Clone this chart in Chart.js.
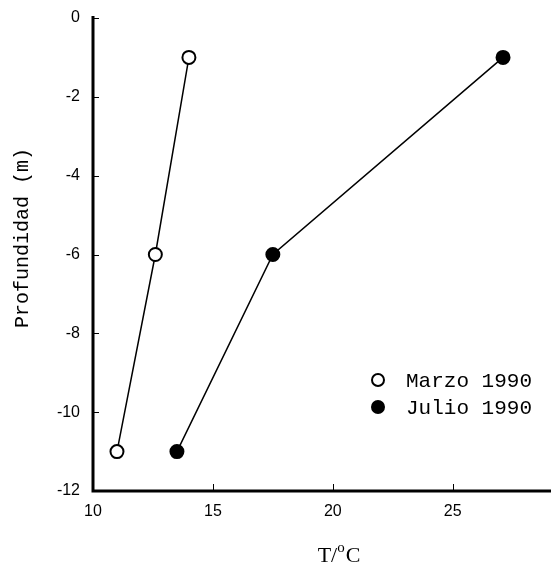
<!DOCTYPE html>
<html>
<head>
<meta charset="utf-8">
<script src="https://cdn.jsdelivr.net/npm/chart.js@4/dist/chart.umd.min.js"></script>
<style>
html,body{margin:0;padding:0;background:#fff;}
#wrap{width:551px;height:570px;}
</style>
</head>
<body>
<div id="wrap"><canvas id="c" width="551" height="570"></canvas></div>
<script>
// Data
const depths = [-1, -6, -11];
const marzoT = [14.0, 12.6, 11.0];
const julioT = [27.1, 17.5, 13.5];
const seriesNames = ['Marzo 1990', 'Julio 1990'];
const xTickValues = [10, 15, 20, 25];
const yTickValues = [0, -2, -4, -6, -8, -10, -12];
const xTitle = ['T/', 'o', 'C'];
const yTitle = 'Profundidad (m)';

const toPts = (xs) => xs.map((x, i) => ({x: x, y: depths[i]}));

const axesPlugin = {
  id: 'axesPlugin',
  afterDraw(chart) {
    const ctx = chart.ctx;
    const a = chart.chartArea;
    const xs = chart.scales.x, ys = chart.scales.y;
    ctx.save();
    ctx.strokeStyle = '#000';
    ctx.lineCap = 'butt';
    // axis lines
    ctx.lineWidth = 3;
    ctx.beginPath();
    ctx.moveTo(a.left, a.top - 2);
    ctx.lineTo(a.left, a.bottom + 1.5);
    ctx.moveTo(a.left - 1.5, a.bottom);
    ctx.lineTo(chart.width, a.bottom);
    ctx.stroke();
    // inward ticks
    ctx.lineWidth = 1;
    ctx.beginPath();
    yTickValues.forEach(v => {
      const y = Math.round(ys.getPixelForValue(v)) + 0.5;
      ctx.moveTo(a.left, y); ctx.lineTo(a.left + 6, y);
    });
    xTickValues.forEach(v => {
      const x = Math.round(xs.getPixelForValue(v)) + 0.5;
      ctx.moveTo(x, a.bottom); ctx.lineTo(x, a.bottom - 7);
    });
    ctx.stroke();

    // y title
    ctx.fillStyle = '#000';
    ctx.save();
    ctx.translate(23, 238);
    ctx.rotate(-Math.PI / 2);
    ctx.font = '20px "Liberation Mono"';
    ctx.textAlign = 'center';
    ctx.textBaseline = 'middle';
    ctx.fillText(yTitle, 0, 0);
    ctx.restore();

    // x title with superscript
    ctx.textAlign = 'left';
    ctx.textBaseline = 'alphabetic';
    const big = '22px "Liberation Serif"', small = '15px "Liberation Serif"';
    ctx.font = big; const w1 = ctx.measureText(xTitle[0]).width;
    ctx.font = small; const w2 = ctx.measureText(xTitle[1]).width;
    ctx.font = big; const w3 = ctx.measureText(xTitle[2]).width;
    let x0 = 339 - (w1 + w2 + w3 + 1) / 2;
    const base = 562;
    ctx.font = big; ctx.fillText(xTitle[0], x0, base);
    ctx.font = small; ctx.fillText(xTitle[1], x0 + w1, base - 10);
    ctx.font = big; ctx.fillText(xTitle[2], x0 + w1 + w2 + 1, base);

    // legend
    const ds = chart.data.datasets;
    ctx.font = '21px "Liberation Mono"';
    ctx.textBaseline = 'middle';
    ds.forEach((d, i) => {
      const cy = 380 + i * 27;
      ctx.beginPath();
      ctx.arc(378, cy, 6, 0, Math.PI * 2);
      ctx.fillStyle = d.pointBackgroundColor;
      ctx.fill();
      ctx.lineWidth = 2;
      ctx.strokeStyle = '#000';
      ctx.stroke();
      ctx.fillStyle = '#000';
      ctx.fillText(d.label, 406, cy + 1);
    });
    ctx.restore();
  }
};

function zeroPad(s) { s.paddingLeft = 0; s.paddingRight = 0; s.paddingTop = 0; s.paddingBottom = 0; }

new Chart(document.getElementById('c'), {
  type: 'scatter',
  data: {
    datasets: [
      {label: seriesNames[0], data: toPts(marzoT), showLine: true,
       borderColor: '#000', borderWidth: 1.5,
       pointBackgroundColor: '#fff', pointBorderColor: '#000',
       pointBorderWidth: 2, pointRadius: 6.5, pointHoverRadius: 6.5},
      {label: seriesNames[1], data: toPts(julioT), showLine: true,
       borderColor: '#000', borderWidth: 1.5,
       pointBackgroundColor: '#000', pointBorderColor: '#000',
       pointBorderWidth: 2, pointRadius: 6.5, pointHoverRadius: 6.5}
    ]
  },
  options: {
    responsive: false,
    animation: false,
    events: [],
    clip: false,
    layout: {autoPadding: false, padding: {top: 18, right: 0, left: 0, bottom: 0}},
    plugins: {legend: {display: false}, tooltip: {enabled: false}},
    scales: {
      x: {
        type: 'linear', min: 10, max: 29.1,
        afterBuildTicks: (s) => { s.ticks = xTickValues.map(v => ({value: v})); },
        afterFit: (s) => { s.height = 79; zeroPad(s); },
        grid: {display: false, drawTicks: false},
        border: {display: false},
        ticks: {color: '#000', padding: 11, font: {family: '"Liberation Sans"', size: 16}}
      },
      y: {
        type: 'linear', min: -12, max: 0,
        afterBuildTicks: (s) => { s.ticks = yTickValues.map(v => ({value: v})); },
        afterFit: (s) => { s.width = 93; zeroPad(s); },
        grid: {display: false, drawTicks: false},
        border: {display: false},
        ticks: {color: '#000', padding: 13, font: {family: '"Liberation Sans"', size: 16}}
      }
    }
  },
  plugins: [axesPlugin]
});
</script>
</body>
</html>
